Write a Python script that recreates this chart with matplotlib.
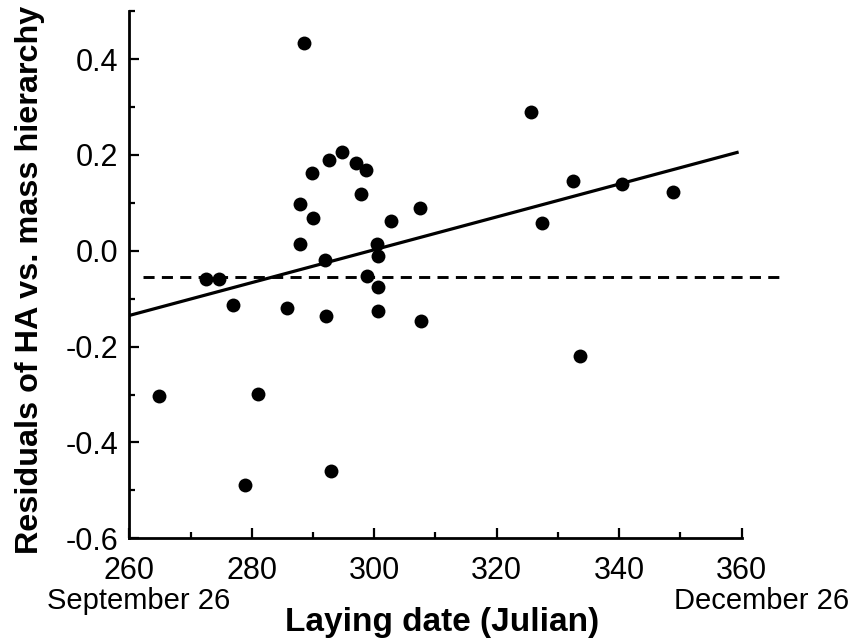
import matplotlib
matplotlib.use("Agg")
import matplotlib.pyplot as plt
from matplotlib.ticker import MultipleLocator
import matplotlib.transforms as mtransforms

plt.rcParams["font.family"] = ["Liberation Sans", "DejaVu Sans"]

# Laying date (Julian day) and residuals of HA vs. mass hierarchy
laying_day = [
    288.6, 289.9, 292.6, 294.8, 297.0, 298.7, 297.9, 287.8, 290.0, 302.7,
    307.5, 287.9, 300.5, 300.6, 291.9, 298.8, 300.6, 272.5, 274.7, 277.0,
    285.7, 292.1, 300.6, 307.6, 264.8, 281.0, 278.9, 293.0, 325.6, 332.5,
    340.5, 348.8, 327.4, 333.6,
]
residual = [
    0.434, 0.163, 0.190, 0.206, 0.184, 0.168, 0.118, 0.097, 0.069, 0.063,
    0.090, 0.014, 0.015, -0.010, -0.019, -0.053, -0.076, -0.059, -0.059, -0.114,
    -0.119, -0.136, -0.126, -0.147, -0.304, -0.299, -0.488, -0.460, 0.289, 0.146,
    0.140, 0.123, 0.057, -0.219,
]

# Regression line end points and the horizontal reference (mean) line
fit_day = [260.0, 359.5]
fit_resid = [-0.135, 0.206]
mean_day = [262.2, 366.2]
mean_resid = -0.054

fig = plt.figure(figsize=(8.54, 6.43), dpi=100)
ax = fig.add_axes([0.1514, 0.1628, 0.8685 - 0.1514, 0.9827 - 0.1628])

ax.scatter(laying_day, residual, s=100, color="black", zorder=3, linewidths=0)
ax.plot(fit_day, fit_resid, color="black", lw=2.3, solid_capstyle="butt")
ax.plot(mean_day, [mean_resid, mean_resid], color="black", lw=2.1,
        dashes=(3.8, 2.5), clip_on=False)

ax.set_xlim(260, 360)
ax.set_ylim(-0.6, 0.5)

ax.xaxis.set_major_locator(MultipleLocator(20))
ax.xaxis.set_minor_locator(MultipleLocator(10))
ax.yaxis.set_major_locator(MultipleLocator(0.2))
ax.yaxis.set_minor_locator(MultipleLocator(0.1))
ax.yaxis.set_major_formatter(plt.FuncFormatter(lambda v, p: f"{v:.1f}"))

for side in ("top", "right"):
    ax.spines[side].set_visible(False)
for side in ("left", "bottom"):
    ax.spines[side].set_linewidth(2.0)

ax.tick_params(which="major", direction="in", length=7.5, width=1.6,
               labelsize=22, color="black")
ax.tick_params(which="minor", direction="in", length=4, width=1.6)
ax.tick_params(axis="x", which="major", pad=13)
ax.tick_params(axis="y", which="major", pad=8)

ax.set_xlabel("Laying date (Julian)", fontsize=24, fontweight="bold")
ax.xaxis.set_label_coords(0.511, -0.130)
ax.xaxis.label.set_va("top")

ax.set_ylabel("Residuals of HA vs. mass hierarchy", fontsize=23.3,
              fontweight="bold")
ax.yaxis.set_label_coords(-0.138, 0.49)

trans = mtransforms.blended_transform_factory(ax.transData, ax.transAxes)
ax.text(261.6, -0.093, "September 26", transform=trans, ha="center",
        va="top", fontsize=21, clip_on=False)
ax.text(363.3, -0.093, "December 26", transform=trans, ha="center",
        va="top", fontsize=21, clip_on=False)

fig.savefig("out.png", dpi=100)
